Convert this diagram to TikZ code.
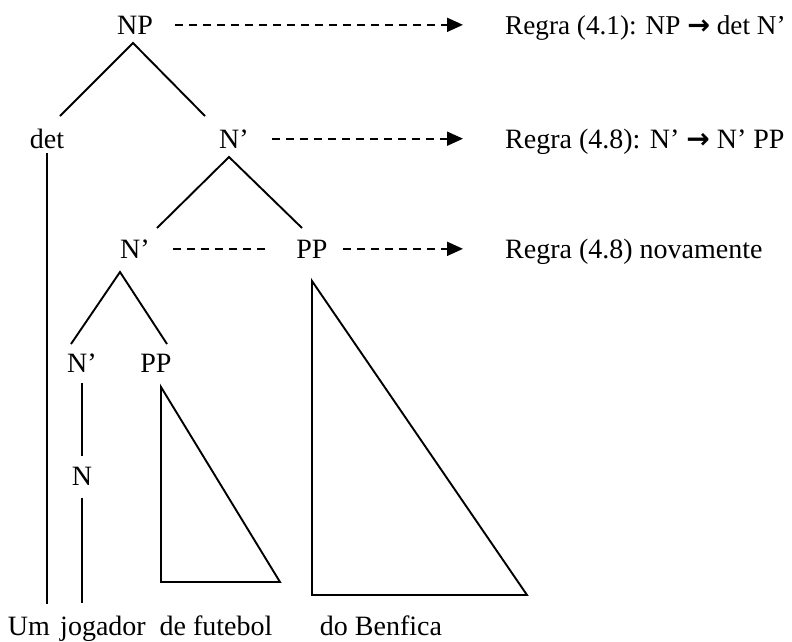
\documentclass[tikz,border=0pt]{standalone}
\usepackage{fontspec}
\setmainfont{Liberation Serif}
\newfontfamily\arrowfont{DejaVu Sans}
\usetikzlibrary{arrows.meta}
\begin{document}
\begin{tikzpicture}[x=1pt,y=-1pt,
  lbl/.style={anchor=base, inner sep=0pt, font=\fontsize{28}{33}\selectfont},
  rulelbl/.style={anchor=base west, inner sep=0pt, font=\fontsize{28}{33}\selectfont},
  edge/.style={line width=1.9pt, line join=miter},
  dashline/.style={line width=1.9pt, dash pattern=on 8pt off 6pt},
  dasharrow/.style={dashline, -{Triangle[length=16pt,width=14pt]}}]
\useasboundingbox (0,0) rectangle (792,641);

% tree labels
\node[lbl] (NP)  at (135,34)  {NP};
\node[lbl] (det) at (47,148)  {det};
\node[lbl] (Nb1) at (234,148) {N’};
\node[lbl] (Nb2) at (135,258) {N’};
\node[lbl] (PP1) at (312,258) {PP};
\node[lbl] (Nb3) at (82,372)  {N’};
\node[lbl] (PP2) at (156,372) {PP};
\node[lbl] (N)   at (82,485)  {N};

% words
\node[lbl] (um)  at (29,635)  {Um};
\node[lbl] (jog) at (103,635) {jogador};
\node[lbl] (fut) at (216,635) {de futebol};
\node[lbl] (ben) at (381,635) {do Benfica};

% rules
\node[rulelbl, font=\fontsize{27.2}{33}\selectfont] (R1) at (505,34)  {Regra (4.1): NP {\arrowfont\bfseries →} det N’};
\node[rulelbl] (R2) at (505,148) {Regra (4.8): N’ {\arrowfont\bfseries →} N’ PP};
\node[rulelbl] (R3) at (505,258) {Regra (4.8) novamente};

% branch points
\coordinate (a1) at (133,43);  \coordinate (b1) at (60,116);  \coordinate (c1) at (205,116);
\coordinate (a2) at (229,157); \coordinate (b2) at (157,228); \coordinate (c2) at (302,228);
\coordinate (a3) at (120,272); \coordinate (b3) at (71,344);  \coordinate (c3) at (167,344);

\draw[edge] (b1) -- (a1) -- (c1);
\draw[edge] (b2) -- (a2) -- (c2);
\draw[edge] (b3) -- (a3) -- (c3);

% vertical lines
\draw[edge, shorten <=11pt, shorten >=10pt] (Nb3.south) -- (Nb3.south |- N.north);
\draw[edge, shorten <=13pt, shorten >=12pt] (N.south) -- (N.south |- jog.north);
\draw[edge, shorten <=5pt, shorten >=12pt] (det.south) -- (det.south |- um.north);

% triangles
\coordinate (t1) at (161,387); \coordinate (t2) at (161,582); \coordinate (t3) at (280,582);
\draw[edge] (t1) -- (t2) -- (t3) -- cycle;
\coordinate (u1) at (312,281); \coordinate (u2) at (312,595); \coordinate (u3) at (527,595);
\draw[edge] (u1) -- (u2) -- (u3) -- cycle;

% dashed arrows
\draw[dasharrow, shorten <=22pt, shorten >=42pt] (NP.east) -- (NP.east -| R1.west);
\draw[dasharrow, shorten <=23pt, shorten >=42pt] (Nb1.east) -- (Nb1.east -| R2.west);
\draw[dashline, shorten <=23pt, shorten >=30pt] (Nb2.east) -- (Nb2.east -| PP1.west);
\draw[dasharrow, shorten <=15pt, shorten >=42pt] (PP1.east) -- (PP1.east -| R3.west);
\end{tikzpicture}
\end{document}
